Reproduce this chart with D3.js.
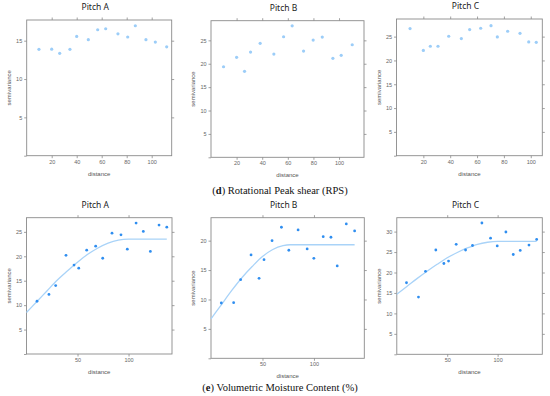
<!DOCTYPE html>
<html>
<head>
<meta charset="utf-8">
<script src="https://cdn.jsdelivr.net/npm/d3@7"></script>
<style>
  body { margin: 0; background: #fff; }
  svg { display: block; }
  .tick-label { font-family: "Liberation Sans", Arial, sans-serif; font-size: 5.5px; fill: #666; }
  .axis-title { font-family: "Liberation Sans", Arial, sans-serif; font-size: 6px; fill: #555; }
  .panel-title { font-family: "Noto Sans", "Open Sans", sans-serif; font-size: 8.5px; fill: #222; }
  .caption { font-family: "Palatino Linotype", "Liberation Serif", serif; font-size: 10.5px; fill: #111; }
</style>
</head>
<body>
<svg width="550" height="396"></svg>
<script>

// (d) Rotational Peak shear - distance / semivariance
var rpsA_dist = [9.8, 20, 26.4, 34.6, 40, 49.3, 56.8, 63.2, 73, 80.8, 86.9, 95.4, 102.9, 112];
var rpsA_semi = [13.87, 13.9, 13.35, 13.87, 15.56, 15.13, 16.43, 16.56, 15.9, 15.48, 16.95, 15.13, 14.82, 14.2];

var rpsB_dist = [9.8, 20, 26.2, 30.9, 38.4, 49.1, 56.7, 63.4, 72.3, 79.8, 86.9, 95.2, 101.7, 110.3];
var rpsB_semi = [19.36, 21.37, 18.38, 22.5, 24.36, 22.07, 25.77, 28.1, 22.7, 25.06, 25.7, 21.15, 21.8, 24.06];

var rpsC_dist = [10.1, 20, 25.2, 30.9, 38.9, 48.3, 54.5, 62.7, 70.4, 75.1, 82.8, 92, 98.5, 104.1];
var rpsC_semi = [26.7, 22.1, 22.98, 22.98, 25.08, 24.6, 26.47, 26.76, 27.3, 24.94, 26.13, 25.7, 23.89, 23.8];

// (e) Volumetric Moisture Content - distance / semivariance
var vmcA_dist = [10.3, 22, 28.6, 38.7, 46.6, 51.2, 59, 67.8, 74.7, 83.8, 92.6, 98.8, 107.4, 114.5, 121.4, 129.9, 137.5];
var vmcA_semi = [10.8, 12.2, 14.0, 20.2, 18.2, 17.56, 21.25, 22.07, 19.6, 24.73, 24.4, 21.45, 26.8, 25.1, 21.0, 26.4, 25.96];

var vmcB_dist = [10, 22, 28.8, 38.9, 46.7, 51.5, 59.3, 68.4, 75.6, 84.6, 93.4, 99.9, 109, 116.5, 122.6, 131.4, 139.5];
var vmcB_semi = [9.4, 9.46, 13.37, 17.57, 13.6, 16.77, 20.0, 22.28, 18.37, 21.82, 18.6, 17.0, 20.68, 20.58, 15.7, 22.84, 21.65];

var vmcC_dist = [9.6, 21.5, 28.5, 38.7, 46.7, 51.3, 58.9, 68.2, 75.1, 84.4, 93, 99.6, 108.2, 115.5, 122.4, 131.1, 138.7];
var vmcC_semi = [17.5, 14.0, 20.3, 25.5, 22.2, 22.8, 26.9, 25.5, 26.6, 32.1, 28.4, 26.5, 29.9, 24.4, 25.4, 26.7, 28.1];

// fitted model lines
var fitA_dist = [0, 10, 20, 30, 40, 50, 60, 70, 80, 90, 100, 137.5];
var fitA_semi = [8.5, 10.7, 12.9, 15.1, 17.0, 18.8, 20.4, 21.7, 22.7, 23.3, 23.5, 23.5];
var fitB_dist = [0, 10, 20, 30, 40, 50, 60, 70, 77, 139.5];
var fitB_semi = [6.7, 9.1, 11.5, 13.7, 15.6, 17.3, 18.5, 19.15, 19.3, 19.3];
var fitC_dist = [0, 10, 20, 30, 40, 50, 60, 70, 80, 90, 100, 138.7];
var fitC_semi = [14.7, 16.6, 18.5, 20.3, 22.0, 23.6, 24.9, 26.0, 26.9, 27.4, 27.6, 27.6];

var titles = ['Pitch A', 'Pitch B', 'Pitch C'];
var rpsXTicks = [20, 40, 60, 80, 100];
var vmcXTicks = [50, 100];
var rpsYTicks = [[5, 10, 15], [5, 10, 15, 20, 25], [5, 10, 15, 20, 25]];
var vmcYTicks = [[5, 10, 15, 20, 25], [5, 10, 15, 20], [5, 10, 15, 20, 25, 30]];
var captionD = 'Rotational Peak shear (RPS)';
var captionE = 'Volumetric Moisture Content (%)';

var svg = d3.select('svg');

function zip(xs, ys) {
  return xs.map(function(x, i) { return [x, ys[i]]; });
}

// frame + axes + points for one panel
function drawPanel(p) {
  var x = d3.scaleLinear().domain([0, p.xMax]).range([p.l, p.r]);
  var y = d3.scaleLinear().domain([0, p.yMax]).range([p.b, p.t]);
  var g = svg.append('g');

  g.append('rect')
    .attr('x', p.l).attr('y', p.t)
    .attr('width', p.r - p.l).attr('height', p.b - p.t)
    .attr('fill', 'none').attr('stroke', '#8a8a8a').attr('stroke-width', 0.9);

  // bottom axis with labels, top axis ticks only
  var bottom = g.append('g').attr('transform', 'translate(0,' + p.b + ')')
    .call(d3.axisBottom(x).tickValues(p.xTicks).tickSize(2.5).tickSizeOuter(0).tickPadding(1.5));
  var top = g.append('g').attr('transform', 'translate(0,' + p.t + ')')
    .call(d3.axisTop(x).tickValues(p.xTicks).tickSize(2.5).tickSizeOuter(0).tickFormat(''));
  var left = g.append('g').attr('transform', 'translate(' + p.l + ',0)')
    .call(d3.axisLeft(y).tickValues([0].concat(p.yTicks)).tickSize(2.5).tickSizeOuter(0).tickPadding(2)
      .tickFormat(function(d) { return d === 0 ? '' : d; }));
  var right = g.append('g').attr('transform', 'translate(' + p.r + ',0)')
    .call(d3.axisRight(y).tickValues(p.yTicks).tickSize(2.5).tickSizeOuter(0).tickFormat(''));

  [bottom, top, left, right].forEach(function(a) {
    a.select('.domain').remove();
    a.selectAll('line').attr('stroke', '#8a8a8a').attr('stroke-width', 0.8);
    a.selectAll('text').attr('class', 'tick-label').attr('fill', null).attr('font-size', null).attr('font-family', null);
  });

  g.append('text').attr('class', 'panel-title')
    .attr('x', (p.l + p.r) / 2 - 4).attr('y', p.t - 10)
    .attr('text-anchor', 'middle').text(p.title);

  g.append('text').attr('class', 'axis-title')
    .attr('x', (p.l + p.r) / 2).attr('y', p.b + 20)
    .attr('text-anchor', 'middle').text('distance');

  g.append('text').attr('class', 'axis-title')
    .attr('transform', 'translate(' + (p.l - 16) + ',' + ((p.t + p.b) / 2) + ') rotate(-90)')
    .attr('text-anchor', 'middle').text('semivariance');

  if (p.fit) {
    var line = d3.line()
      .x(function(d) { return x(d[0]); })
      .y(function(d) { return y(d[1]); })
      .curve(d3.curveMonotoneX);
    g.append('path').datum(p.fit)
      .attr('d', line)
      .attr('fill', 'none')
      .attr('stroke', '#a9d3f8')
      .attr('stroke-width', 1.3);
  }

  g.selectAll('circle.pt')
    .data(p.points)
    .enter()
    .append('circle')
    .attr('class', 'pt')
    .attr('cx', function(d) { return x(d[0]); })
    .attr('cy', function(d) { return y(d[1]); })
    .attr('r', p.fit ? 1.4 : 1.6)
    .attr('fill', p.fit ? '#2f8ef0' : '#9ccdf8');
}

var panels = [
  { l: 26.7, r: 171.7, t: 20, b: 155.7, xMax: 116, yMax: 17.7, title: titles[0],
    xTicks: rpsXTicks, yTicks: rpsYTicks[0], points: zip(rpsA_dist, rpsA_semi) },
  { l: 211, r: 364, t: 20.7, b: 157.3, xMax: 119.5, yMax: 29.2, title: titles[1],
    xTicks: rpsXTicks, yTicks: rpsYTicks[1], points: zip(rpsB_dist, rpsB_semi) },
  { l: 396.5, r: 542.3, t: 19, b: 155.7, xMax: 108.6, yMax: 28.7, title: titles[2],
    xTicks: rpsXTicks, yTicks: rpsYTicks[2], points: zip(rpsC_dist, rpsC_semi) },
  { l: 26.5, r: 172, t: 217.7, b: 354, xMax: 142.6, yMax: 27.9, title: titles[0],
    xTicks: vmcXTicks, yTicks: vmcYTicks[0], points: zip(vmcA_dist, vmcA_semi), fit: zip(fitA_dist, fitA_semi) },
  { l: 211, r: 364.3, t: 217.7, b: 358.3, xMax: 148.9, yMax: 23.9, title: titles[1],
    xTicks: vmcXTicks, yTicks: vmcYTicks[1], points: zip(vmcB_dist, vmcB_semi), fit: zip(fitB_dist, fitB_semi) },
  { l: 396.8, r: 542.3, t: 217.7, b: 354.3, xMax: 144.3, yMax: 33.4, title: titles[2],
    xTicks: vmcXTicks, yTicks: vmcYTicks[2], points: zip(vmcC_dist, vmcC_semi), fit: zip(fitC_dist, fitC_semi) }
];

panels.forEach(drawPanel);

function caption(letter, label, yPos) {
  var t = svg.append('text').attr('class', 'caption')
    .attr('x', 280).attr('y', yPos).attr('text-anchor', 'middle');
  t.append('tspan').text('(');
  t.append('tspan').attr('font-weight', 'bold').text(letter);
  t.append('tspan').text(') ' + label);
}

caption('d', captionD, 193.5);
caption('e', captionE, 391);

</script>
</body>
</html>
